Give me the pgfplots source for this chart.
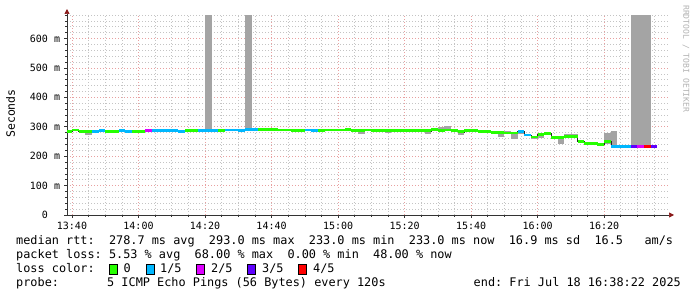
\documentclass[border=0pt]{standalone}
\usepackage{fontspec}
\setmainfont{DejaVu Sans Mono}
\usepackage{pgfplots}
\pgfplotsset{compat=1.18}
\usepackage{pgfplotstable}
\usetikzlibrary{arrows.meta}
\definecolor{lc0}{HTML}{26FF00}
\definecolor{lc1}{HTML}{00B8FF}
\definecolor{lc2}{HTML}{DD00FF}
\definecolor{lc3}{HTML}{5E00FF}
\definecolor{lc4}{HTML}{FF0000}
\definecolor{smoke}{HTML}{A4A4A4}
\definecolor{arrowred}{HTML}{8A1A1A}
\definecolor{mgrid}{HTML}{E8A0A0}
\definecolor{ngrid}{HTML}{C4C4C4}
% smoke (min..max) and median for every 2-minute step (t = minutes after 13:40)
\pgfplotstableread{
t med lo hi
-2 285 282 288
0 289 286 291
2 285 282 287
4 285 273 287
6 285 278 288
8 287 284 291
10 285 283 287
12 285 283 287
14 286 284 289
16 284 282 286
18 285 283 287
20 285 283 287
22 287 285 289
24 286 283 290
26 287 284 290
28 288 285 291
30 288 285 290
32 285 283 287
34 288 286 290
36 287 285 290
38 288 286 290
40 286 284 680
42 288 286 290
44 288 286 290
46 289 287 291
48 289 287 291
50 287 285 290
52 290 288 680
54 290 288 292
56 290 288 292
58 292 290 294
60 291 289 293
62 289 287 291
64 289 287 291
66 288 286 291
68 288 286 290
70 289 287 291
72 286 283 289
74 288 286 291
76 289 287 291
78 289 285 291
80 289 287 291
82 290 288 292
84 287 285 289
86 288 275 292
88 289 287 291
90 288 286 290
92 288 286 290
94 288 280 290
96 288 286 290
98 288 286 291
100 287 282 289
102 287 285 289
104 287 285 289
106 286 276 288
108 290 288 292
110 288 286 298
112 289 287 302
114 287 285 289
116 283 272 286
118 287 285 289
120 288 286 290
122 284 282 287
124 283 280 289
126 281 278 284
128 280 266 282
130 279 277 286
132 279 258 281
134 284 275 286
136 272 270 275
138 265 257 267
140 274 262 280
142 278 276 281
144 264 262 267
146 264 242 267
148 268 266 276
150 268 266 275
152 251 246 256
154 244 240 248
156 242 238 247
158 241 237 245
160 251 243 278
162 234 232 285
164 232 230 235
166 233 231 236
168 232 230 680
170 232 230 680
172 232 230 680
174 232 230 234
}\data
% median steps by loss colour
\pgfplotstableread{
t med
-2 285
0 289
2 285
4 285
10 285
12 285
18 285
20 285
34 288
36 287
44 288
56 290
58 292
60 291
62 289
64 289
66 288
68 288
74 288
76 289
78 289
80 289
82 290
84 287
86 288
88 289
90 288
92 288
94 288
96 288
98 288
100 287
102 287
104 287
106 286
108 290
110 288
112 289
114 287
116 283
118 287
120 288
122 284
124 283
126 281
128 280
130 279
132 279
138 265
140 274
142 278
144 264
146 264
148 268
150 268
152 251
154 244
156 242
158 241
160 251
}\lossA
\pgfplotstableread{
t med
6 285
8 287
14 286
16 284
24 286
26 287
28 288
30 288
32 285
38 288
40 286
42 288
46 289
48 289
50 287
52 290
54 290
70 289
72 286
134 284
136 272
162 234
164 232
166 233
}\lossB
\pgfplotstableread{
t med
22 287
170 232
}\lossC
\pgfplotstableread{
t med
168 232
174 232
}\lossD
\pgfplotstableread{
t med
172 232
}\lossE
\pgfplotsset{
  stepbar/.style={only marks, mark=*, mark size=0pt, mark options={draw=none, fill=none}, forget plot,
    error bars/.cd, y dir=plus, y fixed=9.5, error mark=none,
    error bar style={draw=#1, line width=6.7pt}},
}
\begin{document}
\frenchspacing
\begin{tikzpicture}
\useasboundingbox (0pt,0pt) rectangle (697pt,297pt);
\begin{axis}[
  at={(67pt,82pt)}, anchor=south west,
  scale only axis, width=602pt, height=200pt,
  xmin=-1.5, xmax=179.5, ymin=0, ymax=680,
  axis lines=left,
  x axis line style={black!80, line width=0.7pt, -{Triangle[length=5pt,width=5pt,color=arrowred]}, shorten >=-5pt},
  y axis line style={black!80, line width=0.7pt, -{Triangle[length=5pt,width=5pt,color=arrowred]}, shorten >=-6pt},
  xtick={0,20,...,160},
  xticklabels={13:40,14:00,14:20,14:40,15:00,15:20,15:40,16:00,16:20},
  minor xtick={5,10,15,25,30,35,45,50,55,65,70,75,85,90,95,105,110,115,125,130,135,145,150,155,165,170,175},
  ytick={0,100,...,600},
  yticklabels={0,100 m,200 m,300 m,400 m,500 m,600 m},
  minor ytick={20,40,60,80,120,140,160,180,220,240,260,280,320,340,360,380,420,440,460,480,520,540,560,580,620,640,660,680},
  grid=both,
  major grid style={mgrid, line width=0.6pt, dash pattern=on 1pt off 2pt},
  minor grid style={ngrid, line width=0.6pt, dash pattern=on 1pt off 2pt},
  tick align=outside,
  major tick length=3pt, minor tick length=2pt,
  tick style={black!80, line width=0.6pt},
  ticklabel style={font=\fontsize{10}{12}\selectfont, text=black},
  yticklabel style={anchor=center, xshift=-19pt},
  xticklabel style={yshift=-1pt},
]
\addplot[only marks, mark=*, mark size=0pt, mark options={draw=none, fill=none}, forget plot,
  error bars/.cd, y dir=plus, y explicit, error mark=none,
  error bar style={draw=smoke, line width=6.7pt}]
  table[x expr=\thisrow{t}+1, y=lo, y error expr=\thisrow{hi}-\thisrow{lo}] {\data};
\addplot[const plot mark left, draw=black!85, line width=0.5pt, mark=none, forget plot] table[x=t, y=med] {\data};
\addplot[stepbar=lc0] table[x expr=\thisrow{t}+1, y expr=\thisrow{med}-4.75] {\lossA};
\addplot[stepbar=lc1] table[x expr=\thisrow{t}+1, y expr=\thisrow{med}-4.75] {\lossB};
\addplot[stepbar=lc2] table[x expr=\thisrow{t}+1, y expr=\thisrow{med}-4.75] {\lossC};
\addplot[stepbar=lc3] table[x expr=\thisrow{t}+1, y expr=\thisrow{med}-4.75] {\lossD};
\addplot[stepbar=lc4] table[x expr=\thisrow{t}+1, y expr=\thisrow{med}-4.75] {\lossE};
\end{axis}
% axis title and watermark
\node[rotate=90, font=\fontsize{11.5}{13}\selectfont] at (10.5pt,183.5pt) {Seconds};
\node[rotate=-90, anchor=west, inner sep=0pt, text=black!30, font=\fontsize{8.1}{10}\selectfont] at (686pt,292pt) {RRDTOOL / TOBI OETIKER};
% legend
\begin{scope}[every node/.style={anchor=base west, inner sep=0pt, font=\fontsize{11.86}{14}\selectfont}]
\node at (16pt,52pt) {median rtt:\ \ 278.7 ms avg\ \ 293.0 ms max\ \ 233.0 ms min\ \ 233.0 ms now\ \ 16.9 ms sd\ \ 16.5\ \ \ am/s};
\node at (16pt,38pt) {packet loss: 5.53 \% avg\ \ 68.00 \% max\ \ 0.00 \% min\ \ 48.00 \% now};
\node at (16pt,24pt) {loss color:};
\node at (123.5pt,24pt) {0};
\node at (160pt,24pt) {1/5};
\node at (211pt,24pt) {2/5};
\node at (262pt,24pt) {3/5};
\node at (313pt,24pt) {4/5};
\node at (16pt,10pt) {probe:};
\node at (107pt,10pt) {5 ICMP Echo Pings (56 Bytes) every 120s};
\node[anchor=base east] at (681pt,10pt) {end: Fri Jul 18 16:38:22 2025};
\end{scope}
\draw[black, line width=0.6pt, fill=lc0] (109pt,23pt) rectangle (117pt,33pt);
\draw[black, line width=0.6pt, fill=lc1] (146pt,23pt) rectangle (154pt,33pt);
\draw[black, line width=0.6pt, fill=lc2] (196.5pt,23pt) rectangle (204.5pt,33pt);
\draw[black, line width=0.6pt, fill=lc3] (247.5pt,23pt) rectangle (255.5pt,33pt);
\draw[black, line width=0.6pt, fill=lc4] (298.5pt,23pt) rectangle (306.5pt,33pt);
\end{tikzpicture}
\end{document}
